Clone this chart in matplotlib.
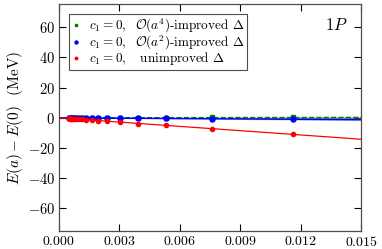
import numpy as np
import matplotlib
matplotlib.use("Agg")
import matplotlib.pyplot as plt

plt.rcParams.update({
    "font.family": "serif",
    "font.serif": ["cmr10", "DejaVu Serif"],
    "mathtext.fontset": "cm",
    "axes.formatter.use_mathtext": True,
    "axes.unicode_minus": True,
})

# data (x = a^2 like quantity, y = E(a)-E(0) in MeV)
a_vals = [0.01164, 0.00759, 0.00532, 0.00395, 0.00304, 0.00241, 0.00197,
          0.00164, 0.00135, 0.00115, 0.00099, 0.00086, 0.00076, 0.00067,
          0.00060, 0.00054, 0.00049]
red_vals = [-11.0, -7.3, -5.1, -3.8, -2.9, -2.3, -1.9, -1.6, -1.3, -1.1,
            -0.95, -0.82, -0.72, -0.64, -0.57, -0.51, -0.47]
blue_vals = [-0.9, -0.5, -0.35, -0.25, -0.2, -0.16, -0.13, -0.11, -0.09,
             -0.08, -0.07, -0.06, -0.05, -0.04, -0.04, -0.03, -0.03]
green_vals = [0.3, 0.2, 0.15, 0.12, 0.1, 0.08, 0.07, 0.06, 0.05, 0.04,
              0.04, 0.03, 0.03, 0.03, 0.02, 0.02, 0.02]

fit_x = [0.0, 0.015]
red_fit = [0.0, -14.2]
blue_fit = [0.0, -1.3]
blue_band_lo = [0.0, -1.9]
blue_band_hi = [0.0, -0.7]
green_fit = [0.0, 0.25]
green_band_lo = [0.0, -0.2]
green_band_hi = [0.0, 0.8]

xticks = [0.0, 0.003, 0.006, 0.009, 0.012, 0.015]
xticklabels = ["$0.000$", "$0.003$", "$0.006$", "$0.009$", "$0.012$", "$0.015$"]
yticks = [-60, -40, -20, 0, 20, 40, 60]
yticklabels = ["$-60$", "$-40$", "$-20$", "$0$", "$20$", "$40$", "$60$"]

fig = plt.figure(figsize=(3.82, 2.49), dpi=100)
ax = fig.add_axes([0.1537, 0.072, 0.7913, 0.91])

ax.axhline(0, color="0.35", lw=0.8, zorder=1)

ax.fill_between(fit_x, green_band_lo, green_band_hi, color="#90d090", alpha=0.6, lw=0, zorder=2)
ax.plot(fit_x, green_fit, color="green", lw=1.0, ls="--", zorder=3)
ax.fill_between(fit_x, blue_band_lo, blue_band_hi, color="#9090ff", alpha=0.6, lw=0, zorder=2)
ax.plot(fit_x, blue_fit, color="blue", lw=1.0, zorder=3)
ax.plot(fit_x, red_fit, color="red", lw=0.9, zorder=3)

ax.plot(a_vals, green_vals, ls="none", marker="s", ms=3.2, color="green", zorder=4,
        label=r"$c_1=0,\ \ \mathcal{O}(a^4)$-improved $\Delta$")
ax.plot(a_vals, blue_vals, ls="none", marker="o", ms=3.6, color="blue", zorder=5,
        label=r"$c_1=0,\ \ \mathcal{O}(a^2)$-improved $\Delta$")
ax.plot(a_vals, red_vals, ls="none", marker="o", ms=3.0, color="red", zorder=5,
        label=r"$c_1=0,\ \ $ unimproved $\Delta$")

ax.set_xlim(0, 0.015)
ax.set_ylim(-75, 75)
ax.set_xticks(xticks)
ax.set_xticklabels(xticklabels, fontsize=10)
ax.set_yticks(yticks)
ax.set_yticklabels(yticklabels, fontsize=10.5)
ax.tick_params(direction="in", top=True, right=True, length=5, width=0.8)
ax.tick_params(axis="x", pad=2.5)
ax.tick_params(axis="y", pad=2.5)
for s in ax.spines.values():
    s.set_linewidth(0.9)
    s.set_color("0.3")

ax.set_ylabel(r"$E(a)-E(0)$  (MeV)", fontsize=11, labelpad=2)
ax.text(0.955, 0.91, r"$1P$", transform=ax.transAxes, ha="right", va="center", fontsize=12)

leg = ax.legend(loc="upper left", fontsize=9.5, handlelength=0.6, handletextpad=0.7,
                borderpad=0.2, labelspacing=-0.12, markerscale=0.6,
                fancybox=False, framealpha=1, edgecolor="0.3",
                bbox_to_anchor=(0.012, 0.985))
leg.get_frame().set_linewidth(0.8)

fig.savefig("out.png", dpi=100)
